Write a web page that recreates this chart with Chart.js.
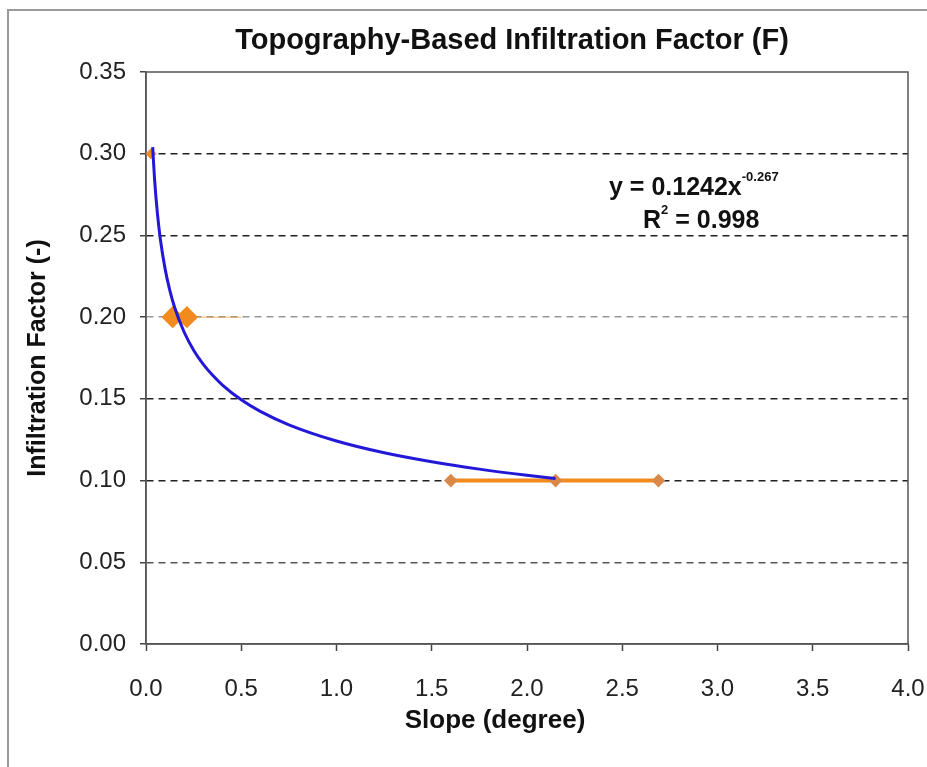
<!DOCTYPE html>
<html lang="en">
<head>
  <meta charset="UTF-8" />
  <title>Topography-Based Infiltration Factor (F)</title>
  <script src="https://cdn.jsdelivr.net/npm/chart.js"></script>
  <style>
    body {
      margin: 0;
      background: #fff;
      font-family: "Liberation Sans", Arial, sans-serif;
    }
    .frame {
      position: relative;
      width: 927px;
      height: 767px;
      overflow: hidden;
    }
    .border {
      position: absolute;
      left: 7px;
      top: 9px;
      width: 1000px;
      height: 800px;
      border-top: 2px solid #9a9a9a;
      border-left: 2px solid #9a9a9a;
    }
    canvas {
      position: absolute;
      left: 0;
      top: 0;
    }
    .title {
      position: absolute;
      left: 0;
      width: 1024px;
      top: 22px;
      text-align: center;
      font-weight: bold;
      font-size: 29px;
      line-height: 34px;
      color: #111;
    }
    .xtitle {
      position: absolute;
      left: 0;
      width: 990px;
      top: 704px;
      text-align: center;
      font-weight: bold;
      font-size: 26px;
      line-height: 30px;
      color: #111;
    }
    .eq {
      position: absolute;
      font-weight: bold;
      font-size: 25px;
      line-height: 25px;
      color: #111;
      white-space: nowrap;
    }
    .eq sup {
      font-size: 13px;
      vertical-align: 14px;
      line-height: 0;
    }
  </style>
</head>
<body>

<div class="frame">
  <div class="border"></div>
  <canvas id="chart" width="927" height="767"></canvas>
  <div class="title">Topography-Based Infiltration Factor (F)</div>
  <div class="xtitle">Slope (degree)</div>
  <div class="eq" style="left:609px; top:174px;">y = 0.1242x<sup>-0.267</sup></div>
  <div class="eq" style="left:643px; top:207px;">R<sup>2</sup> = 0.998</div>
</div>

<script>
  // observed values (orange)
  const obsTopX = [0.026];
  const obsTopY = [0.30];
  const obsMidX = [0.08, 0.14, 0.215, 0.50];
  const obsMidY = [0.20, 0.20, 0.20, 0.20];
  const obsLowX = [1.60, 2.15, 2.69];
  const obsLowY = [0.10, 0.10, 0.10];

  // power trend line (blue)
  const fitX = [0.035, 0.045, 0.06, 0.075, 0.10, 0.125, 0.15, 0.20, 0.25, 0.30, 0.35, 0.40, 0.50, 0.60, 0.75, 1.00, 1.25, 1.50, 1.75, 2.00, 2.15];
  const fitY = [0.3040, 0.2843, 0.2633, 0.2480, 0.2297, 0.2164, 0.2061, 0.1909, 0.1798, 0.1713, 0.1644, 0.1586, 0.1494, 0.1423, 0.1341, 0.1242, 0.1170, 0.1115, 0.1070, 0.1032, 0.1012];

  const xTicks = [0, 0.5, 1, 1.5, 2, 2.5, 3, 3.5, 4];
  const yTicks = [0, 0.05, 0.10, 0.15, 0.20, 0.25, 0.30, 0.35];

  const toPts = (xs, ys) => xs.map((x, i) => ({ x: x, y: ys[i] }));

  const orange = '#f28a1e';

  // frame around the plot area
  const plotBorder = {
    id: 'plotBorder',
    beforeDatasetsDraw(chart) {
      const a = chart.chartArea;
      const ctx = chart.ctx;
      ctx.save();
      ctx.strokeStyle = '#555';
      ctx.lineWidth = 1.5;
      ctx.strokeRect(a.left, a.top, a.right - a.left, a.bottom - a.top);
      ctx.restore();
    }
  };

  function gridColor(ctx) {
    const v = Math.round(ctx.tick.value * 100);
    if (v === 0 || v === 35) return 'rgba(0,0,0,0)';
    if (v === 20) return '#9a9a9a';
    if (v === 5) return '#555';
    return '#222';
  }

  new Chart(document.getElementById('chart'), {
    type: 'scatter',
    data: {
      datasets: [
        {
          label: 'Fit',
          data: toPts(fitX, fitY),
          showLine: true,
          borderColor: '#2318d8',
          borderWidth: 3,
          pointRadius: 0,
          cubicInterpolationMode: 'monotone',
          order: 0
        },
        {
          label: 'F = 0.30',
          data: toPts(obsTopX, obsTopY),
          pointStyle: 'rectRot',
          pointRadius: 5,
          backgroundColor: orange,
          borderColor: orange,
          order: 1
        },
        {
          label: 'F = 0.20',
          data: toPts(obsMidX, obsMidY),
          showLine: true,
          borderColor: 'rgba(242,138,30,0.45)',
          borderWidth: 1.5,
          pointStyle: 'rectRot',
          pointRadius: [0, 10, 10, 0],
          backgroundColor: orange,
          pointBorderColor: orange,
          order: 1
        },
        {
          label: 'F = 0.10',
          data: toPts(obsLowX, obsLowY),
          showLine: true,
          borderColor: orange,
          borderWidth: 4,
          pointStyle: 'rectRot',
          pointRadius: 4,
          backgroundColor: '#d98a4a',
          pointBorderColor: '#d98a4a',
          order: 2
        }
      ]
    },
    options: {
      responsive: false,
      animation: false,
      layout: { padding: { left: 10, right: 19, top: 72, bottom: 0 } },
      plugins: {
        legend: { display: false },
        tooltip: { enabled: false },
        title: { display: false }
      },
      scales: {
        x: {
          type: 'linear',
          min: 0,
          max: 4,
          afterBuildTicks: s => { s.ticks = xTicks.map(v => ({ value: v })); },
          afterFit: s => { s.height = 123; s.paddingLeft = 0; s.paddingRight = 0; },
          ticks: {
            color: '#222',
            font: { family: 'Liberation Sans', size: 24 },
            padding: 24,
            maxRotation: 0,
            callback: v => v.toFixed(1)
          },
          grid: {
            drawOnChartArea: false,
            tickLength: 7,
            tickColor: '#444',
            tickWidth: 1.5
          },
          border: { color: '#555', width: 1.5 }
        },
        y: {
          type: 'linear',
          min: 0,
          max: 0.35,
          afterBuildTicks: s => { s.ticks = yTicks.map(v => ({ value: v })); },
          afterFit: s => { s.width = 136; },
          ticks: {
            color: '#222',
            font: { family: 'Liberation Sans', size: 24 },
            padding: 14,
            callback: v => v.toFixed(2)
          },
          grid: {
            color: gridColor,
            lineWidth: 1.5,
            tickLength: 6,
            tickColor: '#444',
            tickWidth: 1.5,
            tickBorderDash: []
          },
          border: { color: '#555', width: 1.5, dash: [7, 5] },
          title: {
            display: true,
            text: 'Infiltration Factor (-)',
            color: '#111',
            font: { family: 'Liberation Sans', size: 25, weight: 'bold' },
            padding: { top: 13, bottom: 0 }
          }
        }
      }
    },
    plugins: [plotBorder]
  });
</script>

</body>
</html>
